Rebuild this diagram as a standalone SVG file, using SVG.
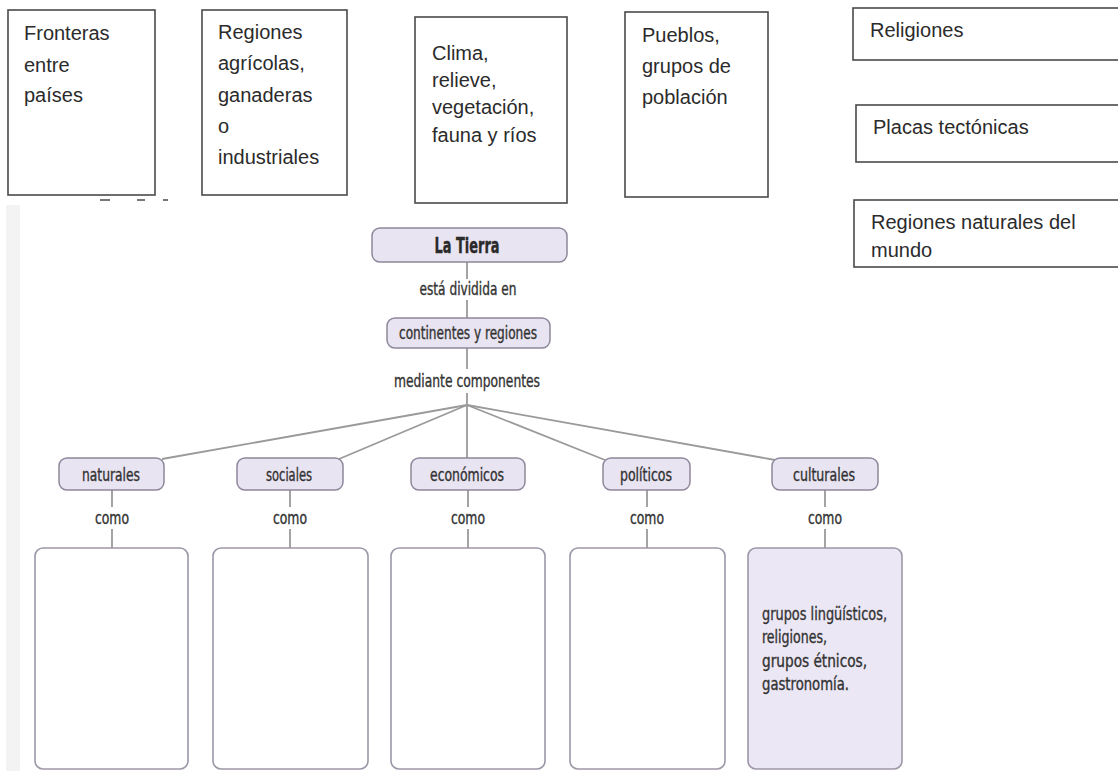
<svg xmlns="http://www.w3.org/2000/svg" width="1118" height="771" viewBox="0 0 1118 771">
<style>
.card{fill:#fff;stroke:#4a4a4a;stroke-width:1.6}
.ct{font-family:"Liberation Sans",Arial,sans-serif;font-size:20px;fill:#2b2b2b}
.pill{fill:#e9e4f1;stroke:#8e879b;stroke-width:1.5}
.blank{fill:#fff;stroke:#9d97a7;stroke-width:1.6}
.filled{fill:#ece7f5;stroke:#9d97a7;stroke-width:1.6}
.lbl{font-family:"Liberation Sans Narrow","DejaVu Sans Condensed",sans-serif;font-size:17px;fill:#333;stroke:#333;stroke-width:0.35}
.bold{font-weight:bold;font-size:21px;fill:#2a2a2a;stroke:#2a2a2a}
.con line{stroke:#9a9a9a;stroke-width:1.8}
</style>
<rect x="0" y="0" width="1118" height="771" fill="#fff"/>
<rect x="6" y="205" width="14" height="566" fill="#f3f3f3"/>
<g fill="#777">
<rect x="100" y="199" width="10" height="2"/>
<rect x="137" y="199" width="8" height="2"/>
<rect x="163" y="199" width="5" height="2"/>
</g>

<g id="top-fronteras"><rect class="card" x="8" y="10" width="147" height="185"/>
<text class="ct" x="24"><tspan x="24" y="40">Fronteras</tspan><tspan x="24" y="72">entre</tspan><tspan x="24" y="102">países</tspan></text></g>
<g id="top-regiones-agricolas"><rect class="card" x="202" y="10" width="145" height="185"/>
<text class="ct"><tspan x="218" y="39">Regiones</tspan><tspan x="218" y="70">agrícolas,</tspan><tspan x="218" y="102">ganaderas</tspan><tspan x="218" y="133">o</tspan><tspan x="218" y="164">industriales</tspan></text></g>
<g id="top-clima"><rect class="card" x="415" y="17" width="152" height="186"/>
<text class="ct"><tspan x="432" y="60">Clima,</tspan><tspan x="432" y="87">relieve,</tspan><tspan x="432" y="114">vegetación,</tspan><tspan x="432" y="142">fauna y ríos</tspan></text></g>
<g id="top-pueblos"><rect class="card" x="625" y="12" width="143" height="185"/>
<text class="ct"><tspan x="642" y="42">Pueblos,</tspan><tspan x="642" y="73">grupos de</tspan><tspan x="642" y="104">población</tspan></text></g>
<g id="top-religiones"><rect class="card" x="853" y="8" width="270" height="52"/>
<text class="ct" x="870" y="37">Religiones</text></g>
<g id="top-placas"><rect class="card" x="856" y="105" width="267" height="57"/>
<text class="ct" x="873" y="134">Placas tectónicas</text></g>
<g id="top-regiones-naturales"><rect class="card" x="854" y="200" width="269" height="67"/>
<text class="ct"><tspan x="871" y="229">Regiones naturales del</tspan><tspan x="871" y="257">mundo</tspan></text></g>

<g class="con" id="connectors">
<line x1="467" y1="262" x2="467" y2="279"/>
<line x1="467" y1="300" x2="467" y2="318"/>
<line x1="467" y1="348" x2="467" y2="369"/>
<line x1="467" y1="393" x2="467" y2="405"/>
<line x1="467" y1="405" x2="162" y2="459"/>
<line x1="467" y1="405" x2="339" y2="459"/>
<line x1="467" y1="405" x2="467" y2="458"/>
<line x1="467" y1="405" x2="605" y2="460"/>
<line x1="467" y1="405" x2="775" y2="460"/>
<line x1="112" y1="490" x2="112" y2="507"/><line x1="112" y1="529" x2="112" y2="548"/>
<line x1="290" y1="490" x2="290" y2="507"/><line x1="290" y1="529" x2="290" y2="548"/>
<line x1="468" y1="490" x2="468" y2="507"/><line x1="468" y1="529" x2="468" y2="548"/>
<line x1="647" y1="490" x2="647" y2="507"/><line x1="647" y1="529" x2="647" y2="548"/>
<line x1="825" y1="490" x2="825" y2="507"/><line x1="825" y1="529" x2="825" y2="548"/>
</g>

<g id="la-tierra"><rect class="pill" x="372" y="228" width="195" height="34" rx="8"/>
<text class="lbl bold" x="467" y="253" text-anchor="middle" textLength="65" lengthAdjust="spacingAndGlyphs">La Tierra</text></g>
<text class="lbl" x="468" y="295" text-anchor="middle" textLength="97" lengthAdjust="spacingAndGlyphs">está dividida en</text>
<g id="continentes"><rect class="pill" x="387" y="318" width="163" height="30" rx="8"/>
<text class="lbl" x="468" y="339" text-anchor="middle" textLength="138" lengthAdjust="spacingAndGlyphs">continentes y regiones</text></g>
<text class="lbl" x="467" y="387" text-anchor="middle" textLength="146" lengthAdjust="spacingAndGlyphs">mediante componentes</text>

<g id="naturales"><rect class="pill" x="59" y="458" width="105" height="32" rx="8"/>
<text class="lbl" x="111" y="481" text-anchor="middle" textLength="58" lengthAdjust="spacingAndGlyphs">naturales</text></g>
<g id="sociales"><rect class="pill" x="237" y="458" width="106" height="32" rx="8"/>
<text class="lbl" x="289" y="481" text-anchor="middle" textLength="46" lengthAdjust="spacingAndGlyphs">sociales</text></g>
<g id="economicos"><rect class="pill" x="411" y="458" width="114" height="32" rx="8"/>
<text class="lbl" x="467" y="481" text-anchor="middle" textLength="74" lengthAdjust="spacingAndGlyphs">económicos</text></g>
<g id="politicos"><rect class="pill" x="603" y="458" width="87" height="32" rx="8"/>
<text class="lbl" x="646" y="481" text-anchor="middle" textLength="52" lengthAdjust="spacingAndGlyphs">políticos</text></g>
<g id="culturales"><rect class="pill" x="772" y="458" width="106" height="32" rx="8"/>
<text class="lbl" x="824" y="481" text-anchor="middle" textLength="62" lengthAdjust="spacingAndGlyphs">culturales</text></g>

<g class="lbl" text-anchor="middle">
<text x="112" y="524" textLength="34" lengthAdjust="spacingAndGlyphs">como</text>
<text x="290" y="524" textLength="34" lengthAdjust="spacingAndGlyphs">como</text>
<text x="468" y="524" textLength="34" lengthAdjust="spacingAndGlyphs">como</text>
<text x="647" y="524" textLength="34" lengthAdjust="spacingAndGlyphs">como</text>
<text x="825" y="524" textLength="34" lengthAdjust="spacingAndGlyphs">como</text>
</g>

<g id="box-naturales"><rect class="blank" x="35" y="548" width="153" height="221" rx="8"/></g>
<g id="box-sociales"><rect class="blank" x="213" y="548" width="155" height="221" rx="8"/></g>
<g id="box-economicos"><rect class="blank" x="391" y="548" width="154" height="221" rx="8"/></g>
<g id="box-politicos"><rect class="blank" x="570" y="548" width="155" height="221" rx="8"/></g>
<g id="box-culturales"><rect class="filled" x="748" y="548" width="154" height="221" rx="8"/>
<text class="lbl"><tspan x="762" y="620" textLength="125" lengthAdjust="spacingAndGlyphs">grupos lingüísticos,</tspan><tspan x="762" y="643" textLength="65" lengthAdjust="spacingAndGlyphs">religiones,</tspan><tspan x="762" y="667" textLength="105" lengthAdjust="spacingAndGlyphs">grupos étnicos,</tspan><tspan x="762" y="690" textLength="87" lengthAdjust="spacingAndGlyphs">gastronomía.</tspan></text></g>
</svg>
